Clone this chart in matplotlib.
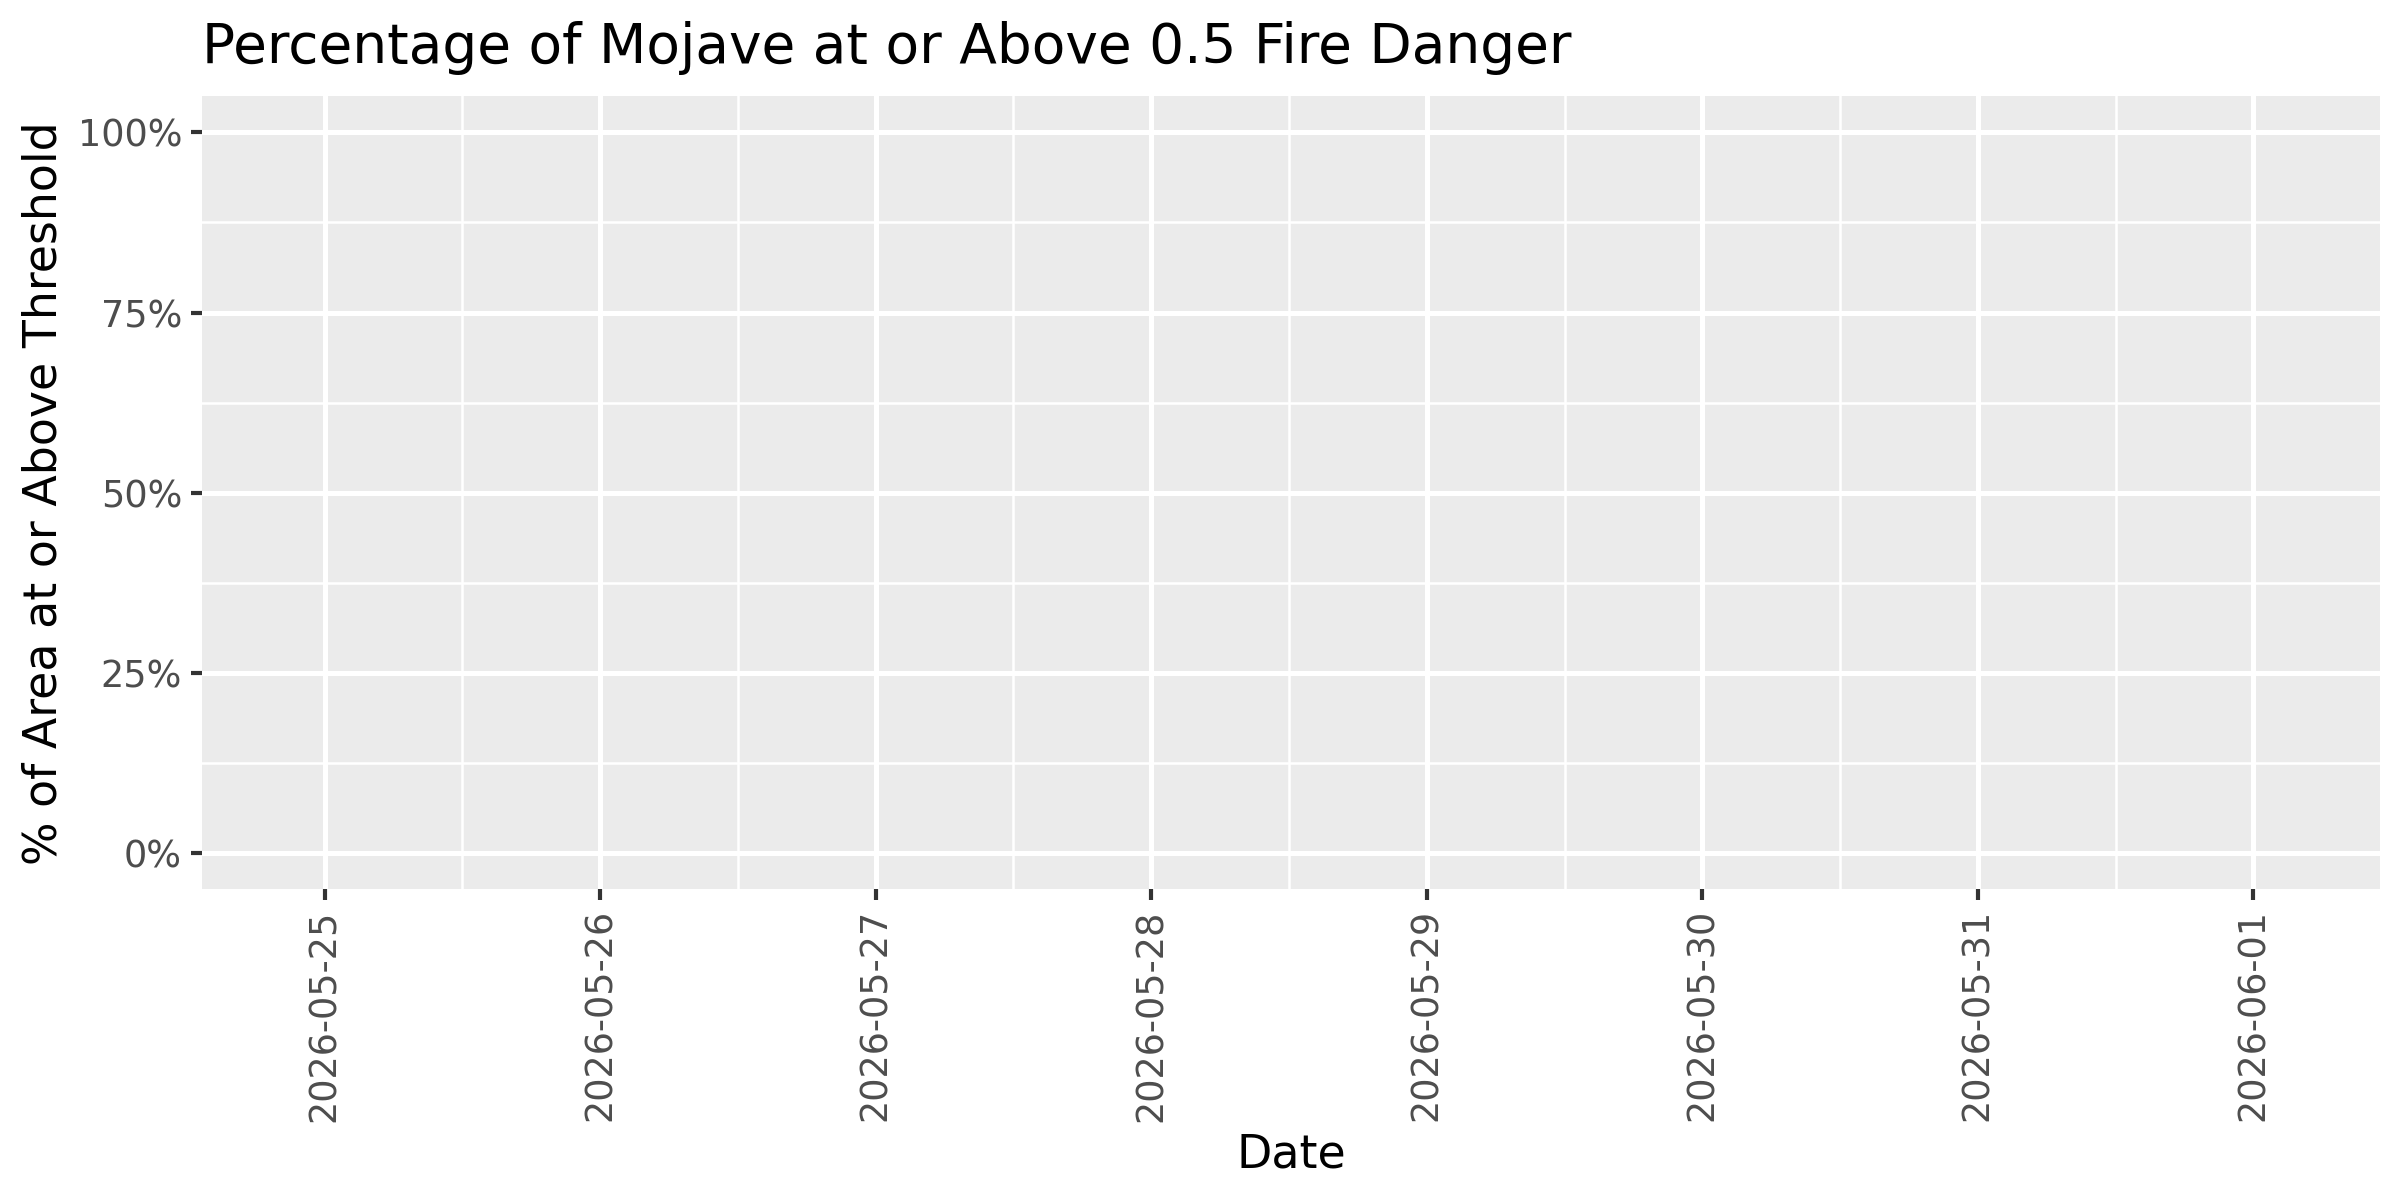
import matplotlib
matplotlib.use("Agg")
import matplotlib.pyplot as plt
import matplotlib.dates as mdates
import numpy as np
import datetime as dt

# data: dates in the forecast window, no area reached the threshold (no values drawn)
dates = ["2026-05-25", "2026-05-26", "2026-05-27", "2026-05-28",
         "2026-05-29", "2026-05-30", "2026-05-31", "2026-06-01"]
pct_values = []
pct_dates = []
y_ticks = [0, 0.25, 0.5, 0.75, 1.0]
y_labels = ["0%", "25%", "50%", "75%", "100%"]

plt.rcParams["font.family"] = ["DejaVu Sans"]

d = [dt.datetime.strptime(s, "%Y-%m-%d") for s in dates]
dn = mdates.date2num(d)

fig = plt.figure(figsize=(12, 6), dpi=200)
ax = fig.add_axes([0.0842, 0.259, 0.9917 - 0.0842, 0.9197 - 0.259])
ax.set_facecolor("#EBEBEB")
for s in ax.spines.values():
    s.set_visible(False)

ax.plot(mdates.date2num(pct_dates) if pct_dates else [], pct_values, color="black")

ax.set_xlim(dn[0] - 0.445, dn[-1] + 0.46)
ax.set_ylim(-0.05, 1.05)

ax.set_xticks(dn)
ax.set_xticklabels(dates, rotation=90, fontsize=13.2, color="#4D4D4D")
ax.set_xticks((dn[:-1] + dn[1:]) / 2, minor=True)
ax.set_yticks(y_ticks)
ax.set_yticklabels(y_labels, fontsize=13.2, color="#4D4D4D")
ax.set_yticks([0.125, 0.375, 0.625, 0.875], minor=True)

ax.grid(True, which="major", color="white", linewidth=1.8)
ax.grid(True, which="minor", color="white", linewidth=0.9)
ax.set_axisbelow(True)
ax.tick_params(which="major", length=3.9, width=1.5, color="#333333", pad=3.3)
ax.tick_params(which="minor", length=0)

ax.set_xlabel("Date", fontsize=16.5, labelpad=4)
ax.set_ylabel("% of Area at or Above Threshold", fontsize=16.5, labelpad=4)
ax.set_title("Percentage of Mojave at or Above 0.5 Fire Danger", fontsize=19.8,
             loc="left", pad=12)

fig.savefig("out.png", dpi=200)
